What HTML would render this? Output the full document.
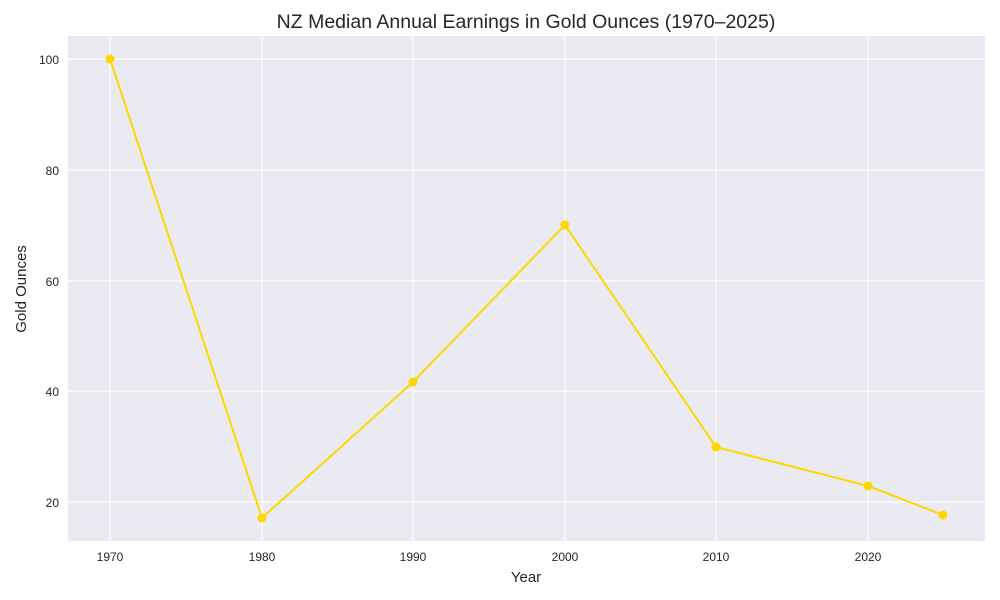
<!DOCTYPE html>
<html><head><meta charset="utf-8"><style>body{margin:0;background:#fff}svg{display:block}</style></head><body>
<svg width="1000" height="600" xmlns="http://www.w3.org/2000/svg" font-family="Liberation Sans, DejaVu Sans, sans-serif">
<rect x="68" y="36" width="917" height="505" fill="#eaeaf2"/>
<g stroke="#fff" stroke-width="1.2">
<line x1="110" y1="36" x2="110" y2="541"/><line x1="262" y1="36" x2="262" y2="541"/><line x1="413" y1="36" x2="413" y2="541"/><line x1="565" y1="36" x2="565" y2="541"/><line x1="716" y1="36" x2="716" y2="541"/><line x1="868" y1="36" x2="868" y2="541"/>
<line x1="68" y1="59" x2="985" y2="59"/><line x1="68" y1="170" x2="985" y2="170"/><line x1="68" y1="281" x2="985" y2="281"/><line x1="68" y1="391" x2="985" y2="391"/><line x1="68" y1="502" x2="985" y2="502"/>
</g>
<polyline fill="none" stroke="#ffd700" stroke-width="2" points="110,59 262,518 413,382 565,225 716,447 868,486 943,515"/>
<g fill="#ffd700"><circle cx="110" cy="59" r="4.5"/><circle cx="262" cy="518" r="4.5"/><circle cx="413" cy="382" r="4.5"/><circle cx="565" cy="225" r="4.5"/><circle cx="716" cy="447" r="4.5"/><circle cx="868" cy="486" r="4.5"/><circle cx="943" cy="515" r="4.5"/></g>
<g font-size="12" fill="#262626" text-anchor="middle">
<text x="110" y="561">1970</text><text x="262" y="561">1980</text><text x="413" y="561">1990</text><text x="565" y="561">2000</text><text x="716" y="561">2010</text><text x="868" y="561">2020</text>
</g>
<g font-size="12" fill="#262626" text-anchor="end">
<text x="59" y="64">100</text><text x="59" y="175">80</text><text x="59" y="286">60</text><text x="59" y="396">40</text><text x="59" y="507">20</text>
</g>
<text x="526" y="582" font-size="15" fill="#262626" text-anchor="middle">Year</text>
<text transform="translate(26,289) rotate(-90)" font-size="15" fill="#262626" text-anchor="middle">Gold Ounces</text>
<text x="526" y="28" font-size="19.5" fill="#262626" text-anchor="middle">NZ Median Annual Earnings in Gold Ounces (1970–2025)</text>
</svg>
</body></html>
